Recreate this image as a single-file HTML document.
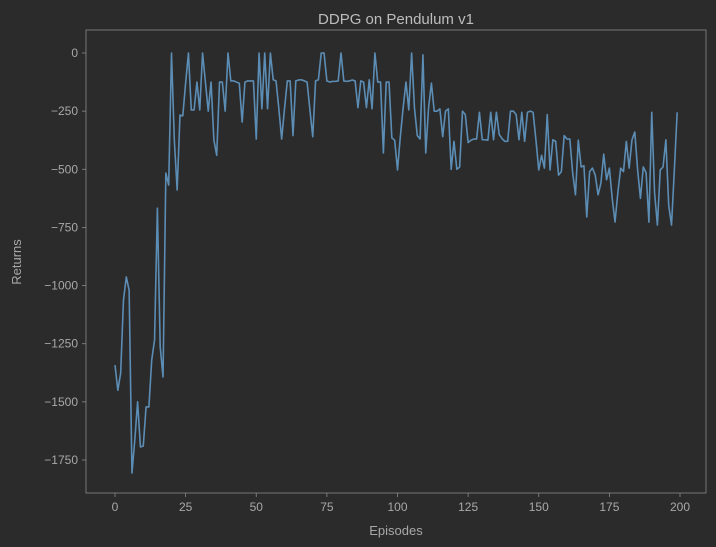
<!DOCTYPE html>
<html><head><meta charset="utf-8"><style>
html,body{margin:0;padding:0;background:#2b2b2b;}
svg{display:block;font-family:"Liberation Sans","DejaVu Sans",sans-serif;}
</style></head><body>
<svg id="chart" width="716" height="547" xmlns="http://www.w3.org/2000/svg">
<rect x="0" y="0" width="716" height="547" fill="#2b2b2b"/>
<text x="396" y="24" text-anchor="middle" font-size="15" fill="#bdbdbd">DDPG on Pendulum v1</text>
<g id="plot"></g>
<text x="396" y="535" text-anchor="middle" font-size="13" fill="#a8a8a8">Episodes</text>
<text transform="translate(21,262) rotate(-90)" text-anchor="middle" font-size="13" fill="#a8a8a8">Returns</text>
</svg>
<script>
const returns = [-1342,-1450,-1377,-1063,-963,-1020,-1806,-1665,-1500,-1694,-1690,-1522,-1522,-1320,-1234,-667,-1264,-1393,-516,-568,
0,-374,-589,-267,-270,-129,0,-245,-245,-125,-245,0,-125,-250,-125,-374,-440,-125,-125,-250,
0,-120,-120,-125,-130,-297,-125,-120,-120,-120,-370,0,-240,0,-240,0,-115,-120,-240,-370,
-240,-120,-120,-355,-120,-116,-115,-120,-125,-245,-360,-120,-115,0,0,-120,-125,-122,-122,-120,
0,-120,-122,-120,-116,-120,-235,-120,-125,-235,-115,-240,0,-125,-125,-430,-125,-125,-365,-375,
-503,-360,-235,-125,-245,0,-235,-355,-370,-8,-430,-235,-130,-250,-250,-240,-360,-250,-240,-500,
-380,-500,-490,-250,-265,-385,-375,-370,-370,-255,-373,-373,-375,-255,-373,-255,-350,-368,-380,-380,
-250,-250,-265,-373,-255,-380,-255,-250,-255,-373,-503,-440,-495,-265,-503,-373,-380,-525,-510,-355,
-370,-370,-515,-610,-375,-490,-485,-705,-510,-495,-525,-610,-560,-435,-545,-495,-625,-727,-600,-495,
-510,-380,-495,-373,-340,-503,-625,-490,-515,-727,-255,-600,-740,-503,-490,-373,-655,-740,-503,-255];
const xTicks = [0,25,50,75,100,125,150,175,200];
const yTicks = [0,-250,-500,-750,-1000,-1250,-1500,-1750];
const yTickLabels = ["0","\u2212250","\u2212500","\u2212750","\u22121000","\u22121250","\u22121500","\u22121750"];

const L=86,R=706,T=30,B=493;
function xs(v){return 115+(v/200)*(680-115);}
function ys(v){return 53+(-v/1750)*(460-53);}
const NS="http://www.w3.org/2000/svg";
const g=document.getElementById('plot');
function mk(t,a){const e=document.createElementNS(NS,t);for(const k in a)e.setAttribute(k,a[k]);g.appendChild(e);return e;}
const frame=mk('rect',{x:L,y:T,width:R-L,height:B-T,fill:'#2b2b2b',stroke:'#8a8a8a','stroke-width':0.8});


xTicks.forEach(t=>{
  const x=xs(t);
  const tk=mk('line',{x1:x,x2:x,y1:B,y2:B+4,stroke:'#8a8a8a','stroke-width':0.8});
  
  
  const lb=mk('text',{x:x,y:B+18,'text-anchor':'middle','font-size':12,fill:'#a8a8a8'});
  lb.textContent=String(t);
  
  
});
yTicks.forEach((t,i)=>{
  const y=ys(t);
  const tk=mk('line',{x1:L-4,x2:L,y1:y,y2:y,stroke:'#8a8a8a','stroke-width':0.8});
  
  
  const lb=mk('text',{x:L-8,y:y+4,'text-anchor':'end','font-size':12,fill:'#a8a8a8'});
  lb.textContent=yTickLabels[i];
  
  
});
const pts=returns.map((v,i)=>xs(i).toFixed(2)+','+ys(v).toFixed(2)).join(' ');
const line=mk('polyline',{points:pts,fill:'none',stroke:'#5c8db5','stroke-width':1.6,'stroke-linejoin':'round'});


</script>
</body></html>
